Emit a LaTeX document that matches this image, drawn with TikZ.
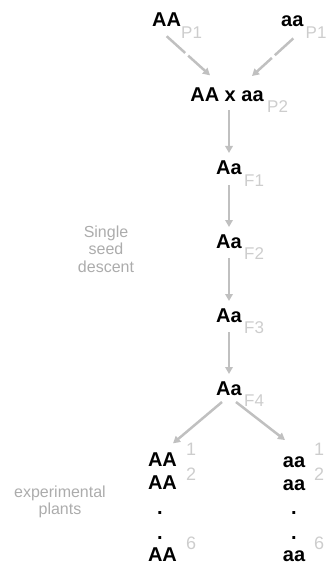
\documentclass[tikz,border=0pt]{standalone}
\usepackage{fontspec}
\setmainfont{Liberation Sans}
\usetikzlibrary{arrows.meta,calc}
\definecolor{arrc}{RGB}{192,192,192}
\definecolor{lblc}{RGB}{205,205,205}
\definecolor{sidec}{RGB}{172,172,172}
\tikzset{
  geno/.style={font=\fontsize{20}{24}\selectfont\bfseries, inner sep=0pt, text=black},
  lab/.style={font=\fontsize{17}{20}\selectfont, inner sep=0pt, text=lblc},
  num/.style={font=\fontsize{18}{20}\selectfont, inner sep=0pt, text=lblc, anchor=base west},
  side/.style={font=\fontsize{16}{17.5}\selectfont, inner sep=0pt, text=sidec, align=center, anchor=north},
  arr/.style={draw=arrc, line width=2.5pt, -{Triangle[length=7pt,width=7.5pt]}},
  darr/.style={arr, dash pattern=on 25pt off 4pt},
}
\begin{document}
\begin{tikzpicture}[x=1pt,y=-1pt]
\useasboundingbox (0,0) rectangle (331,564);
% parents
\node[geno, anchor=base west] (pA) at (152,27) {AA};
\node[lab, anchor=base west] (pAl) at (181,39) {P1};
\node[geno, anchor=base west] (pa) at (281,27) {aa};
\node[lab, anchor=base west] (pal) at (305.5,39) {P1};
% cross
\node[geno, anchor=base] (cross) at (227,102) {AA x aa};
\node[lab, anchor=base west] (p2) at (267,113) {P2};
% generations
\node[geno, anchor=base] (f1) at (229,175) {Aa};
\node[lab, anchor=base west] (f1l) at (244,186) {F1};
\node[geno, anchor=base] (f2) at (229,248) {Aa};
\node[lab, anchor=base west] (f2l) at (244,259) {F2};
\node[geno, anchor=base] (f3) at (229,322) {Aa};
\node[lab, anchor=base west] (f3l) at (244,333) {F3};
\node[geno, anchor=base] (f4) at (229,395) {Aa};
\node[lab, anchor=base west] (f4l) at (244,406) {F4};
% side texts
\node[side] (ssd) at (106,225.5) {Single\\seed\\descent};
\node[side] (exp) at (60,485.5) {experimental\\plants};
% left column
\node[geno, anchor=base] (l1) at (162.5,466) {AA};
\node[geno, anchor=base] (l2) at (162.5,489) {AA};
\node[geno, anchor=base] (ld1) at (160,514.5) {.};
\node[geno, anchor=base] (ld2) at (160,539.5) {.};
\node[geno, anchor=base] (l3) at (162.5,561) {AA};
\node[num] (ln1) at (186,455) {1};
\node[num] (ln2) at (186,480) {2};
\node[num] (ln6) at (186,549) {6};
% right column
\node[geno, anchor=base] (r1) at (294,467) {aa};
\node[geno, anchor=base] (r2) at (294,490) {aa};
\node[geno, anchor=base] (rd1) at (294,514.5) {.};
\node[geno, anchor=base] (rd2) at (294,539.5) {.};
\node[geno, anchor=base] (r3) at (294,561) {aa};
\node[num] (rn1) at (314,455) {1};
\node[num] (rn2) at (314,480) {2};
\node[num] (rn6) at (314,549) {6};
% connectors
\draw[darr] ($(pA.south)+(0,9)$) -- ($(cross.north)+(-17,-12.7)$);
\draw[darr] ($(pa.south)+(1,11)$) -- ($(cross.north)+(25,-12)$);
\draw[arr] ($(f1.base |- cross.base)+(0,8)$) -- ($(f1.base)+(0,-22)$);
\draw[arr] ($(f1.base)+(0,10)$) -- ($(f2.base)+(0,-21)$);
\draw[arr] ($(f2.base)+(0,10)$) -- ($(f3.base)+(0,-21)$);
\draw[arr] ($(f3.base)+(0,10)$) -- ($(f4.base)+(0,-21)$);
\draw[arr] ($(f4.base)+(-7,7)$) -- ($(l1.north)+(10.5,-8.7)$);
\draw[arr] ($(f4.base)+(7,7)$) -- ($(r1.north)+(-9,-16)$);
\end{tikzpicture}
\end{document}
